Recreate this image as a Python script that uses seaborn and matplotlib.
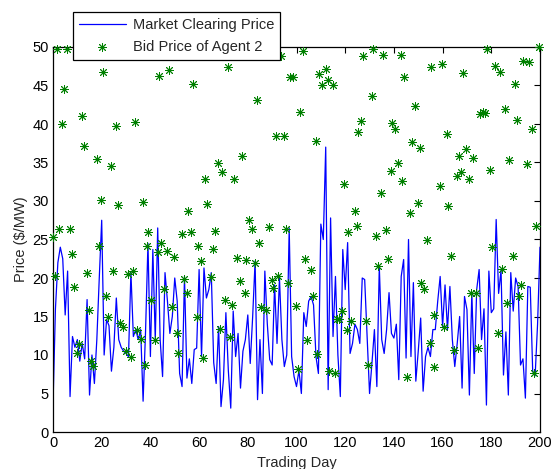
import numpy as np
import pandas as pd
import matplotlib
matplotlib.use("Agg")
import matplotlib.pyplot as plt
import seaborn as sns

# Market clearing price, one value per trading day (0..200)
mcp_values = [
    3.5, 16, 22, 24, 22.5, 15.2, 20.9, 4.6, 12.4, 11, 12, 9.2, 11.5, 9.5, 17.2, 4.8, 10, 6.3, 12, 20,
    27.5, 10, 14.6, 13.8, 7.9, 11, 17.4, 12, 11, 10.5, 10.2, 9.8, 20.7, 12.4, 13.3, 12, 13.3, 4, 13, 24.5,
    9.8, 23.7, 12, 26.5, 12, 7.2, 20.7, 17, 12.8, 15, 20, 17, 7.6, 5.9, 20.2, 7, 9.5, 6.3, 10.7, 10.9,
    21.1, 9.8, 21.3, 17.4, 18.5, 20.7, 9, 6.3, 13.7, 3.3, 6.8, 15.5, 8, 3.1, 15.7, 9.8, 12.8, 5.7, 10.5, 12,
    15.2, 8.9, 15, 22.2, 4.2, 12, 5, 20.9, 14.1, 9.4, 8.7, 19.1, 11.5, 20, 12, 8.5, 10, 26.5, 9.8, 7.2,
    5.9, 8, 5, 15.5, 13.7, 17, 17.6, 16.5, 9.8, 7.6, 27, 25, 37, 5.5, 27.8, 12.4, 20.2, 10, 4.6, 23.7,
    18.5, 24.6, 10.2, 11.5, 14, 13.3, 11.5, 20, 19.8, 12.4, 5, 9, 13.3, 5.9, 21.5, 12, 10.2, 13.3, 18.1, 12.8,
    12.2, 14, 6.8, 20.2, 22.4, 9.6, 25, 9.8, 19.4, 6.6, 10.5, 14.8, 5.3, 9.8, 11, 9.8, 13.3, 13.3, 17, 20.2,
    13.7, 19.1, 13.3, 18.9, 12, 8.5, 11.5, 15, 5.7, 17.6, 15.9, 4.8, 18.1, 7.6, 18.5, 21.1, 12, 16, 3.5, 20.9,
    15.5, 16, 27.6, 18, 21, 7.4, 13, 4.8, 20.7, 15.7, 20, 18.9, 8.7, 9.5, 4.4, 18.9, 18.8, 7.9, 7.3, 14,
    24,
]
mcp_days = list(range(len(mcp_values)))

# Bid price of agent 2 (day, price)
bid_days = [
    0.0, 0.8, 1.5, 2.6, 3.6, 4.5, 5.9, 7.0, 7.7, 8.6, 9.7, 10.8, 11.8, 12.9, 13.8, 14.9, 15.7, 16.6, 17.9, 19.0,
    19.7, 20.7, 21.8, 22.4, 23.7, 24.8, 25.9, 26.6, 27.5, 28.6, 30.0, 30.9, 31.9, 32.7, 33.5, 34.6, 36.0, 36.8, 37.8, 38.5,
    39.2, 40.2, 41.9, 43.0, 43.5, 44.4, 45.7, 46.7, 47.6, 48.7, 49.8, 50.8, 51.5, 52.8, 53.9, 54.9, 55.6, 56.7, 57.6, 59.0,
    59.7, 60.8, 61.7, 62.4, 63.1, 64.9, 65.8, 66.5, 67.6, 68.6, 69.5, 70.6, 71.7, 72.7, 73.6, 74.5, 75.4, 76.8, 77.5, 78.9,
    79.3, 80.6, 81.6, 83.0, 83.6, 84.7, 85.3, 87.5, 88.8, 89.8, 90.5, 91.6, 92.5, 93.5, 94.9, 95.7, 96.6, 97.3, 98.4, 99.8,
    100.7, 101.4, 102.5, 103.5, 104.4, 105.8, 106.9, 108.0, 108.5, 109.4, 110.3, 112.1, 112.8, 113.5, 114.8, 115.8, 116.5, 117.3, 118.8, 119.6,
    120.6, 121.3, 122.4, 124.0, 124.7, 125.4, 126.5, 127.4, 128.4, 129.5, 130.9, 131.5, 132.5, 133.3, 134.7, 135.6, 136.6, 137.5, 138.8, 139.3,
    140.5, 141.8, 142.9, 143.4, 144.3, 145.3, 146.6, 147.6, 148.7, 149.8, 150.7, 151.1, 152.5, 153.7, 154.8, 155.3, 156.6, 156.6, 158.9, 159.6,
    160.6, 161.7, 162.3, 163.3, 164.7, 165.8, 166.9, 167.4, 168.5, 169.6, 171.0, 171.5, 172.6, 173.7, 174.7, 175.2, 176.5, 177.4, 178.4, 179.5,
    180.2, 181.5, 182.9, 183.6, 184.3, 185.6, 186.3, 187.4, 188.8, 189.7, 190.4, 191.5, 192.1, 193.1, 194.5, 195.6, 196.6, 197.5, 198.4, 199.7,
]
bid_prices = [
    25.3, 20.3, 49.7, 26.4, 40.0, 44.5, 49.8, 26.4, 23.1, 18.8, 10.2, 11.4, 41.1, 37.2, 20.7, 15.9, 9.2, 8.6, 35.5, 24.1,
    30.1, 46.8, 17.6, 14.9, 34.6, 20.9, 39.7, 29.5, 14.1, 13.6, 10.5, 20.5, 9.8, 20.9, 40.2, 13.3, 12.1, 29.9, 8.7, 24.1,
    26.0, 17.1, 12.0, 23.4, 46.2, 24.6, 18.6, 23.5, 47.0, 16.2, 22.7, 12.8, 10.2, 25.7, 19.9, 18.0, 28.7, 26.0, 45.2, 14.9,
    24.1, 22.2, 9.6, 32.9, 29.6, 20.1, 23.8, 26.1, 34.9, 13.4, 33.8, 17.2, 47.4, 12.3, 16.5, 32.9, 22.6, 19.6, 35.9, 18.1,
    22.3, 27.5, 26.3, 22.0, 43.1, 24.6, 16.2, 15.8, 26.6, 19.7, 18.7, 38.4, 20.3, 48.8, 38.4, 26.3, 19.4, 46.1, 46.1, 16.3,
    8.2, 41.6, 49.5, 22.5, 12.0, 21.0, 17.6, 37.8, 10.1, 46.5, 45.0, 47.2, 45.7, 7.9, 45.0, 7.7, 14.7, 14.7, 15.7, 32.2,
    13.2, 26.0, 14.4, 28.7, 26.8, 39.0, 40.4, 48.8, 14.4, 8.7, 43.7, 49.8, 25.4, 21.6, 31.1, 49.0, 26.2, 22.5, 33.9, 40.1,
    39.3, 34.9, 49.0, 32.6, 46.1, 7.2, 28.5, 37.7, 42.3, 29.7, 36.9, 19.4, 18.6, 24.9, 11.6, 47.4, 15.2, 8.4, 32.0, 47.8,
    13.7, 38.7, 29.3, 22.9, 10.6, 33.3, 35.9, 33.8, 46.6, 36.7, 32.9, 18.1, 35.6, 18.0, 10.9, 41.3, 41.6, 41.4, 49.7, 34.0,
    24.0, 47.5, 12.8, 46.8, 21.2, 41.9, 16.8, 35.3, 22.8, 45.2, 40.5, 17.7, 19.1, 48.2, 34.8, 48.0, 39.3, 7.7, 26.8, 50.0,
]

x_ticks = list(range(0, 201, 20))
y_ticks = list(range(0, 51, 5))

sns.set_style("white")
plt.rcParams["font.family"] = ["Liberation Sans", "DejaVu Sans"]

fig = plt.figure(figsize=(5.53, 4.69), dpi=100)
ax = fig.add_axes([53 / 553, 37 / 469, 487 / 553, 385 / 469])

line_df = pd.DataFrame({"day": mcp_days, "price": mcp_values})
bid_df = pd.DataFrame({"day": bid_days, "price": bid_prices})

sns.lineplot(data=line_df, x="day", y="price", color="#0000ff", linewidth=0.9,
             ax=ax, label="Market Clearing Price", sort=False, estimator=None)
sns.scatterplot(data=bid_df, x="day", y="price", marker=(8, 2, 0), color="#008000",
                s=34, linewidth=0.65, ax=ax, label="Bid Price of Agent 2", zorder=3,
                clip_on=False)

ax.set_xlim(0, 200)
ax.set_ylim(0, 50)
ax.set_xticks(x_ticks)
ax.set_yticks(y_ticks)
ax.tick_params(direction="in", length=4, width=0.8, top=True, right=True,
               labelsize=10.5, pad=3, colors="black")
for s in ax.spines.values():
    s.set_visible(True)
    s.set_color("black")
    s.set_linewidth(0.9)

ax.set_xlabel("Trading Day", fontsize=10.5, labelpad=4)
ax.set_ylabel("Price (\\$/MW)", fontsize=10.5, labelpad=3)

leg = ax.legend(loc="upper left", bbox_to_anchor=(20 / 487, (432 - 12) / 385),
                borderaxespad=0, fontsize=10.5, frameon=True, fancybox=False,
                handlelength=3.2, handletextpad=0.5, borderpad=0.4, labelspacing=0.55)
leg.get_frame().set_edgecolor("black")
leg.get_frame().set_linewidth(0.9)
leg.get_frame().set_alpha(1)
leg.set_zorder(10)

fig.savefig("out.png", dpi=100, facecolor="white")
